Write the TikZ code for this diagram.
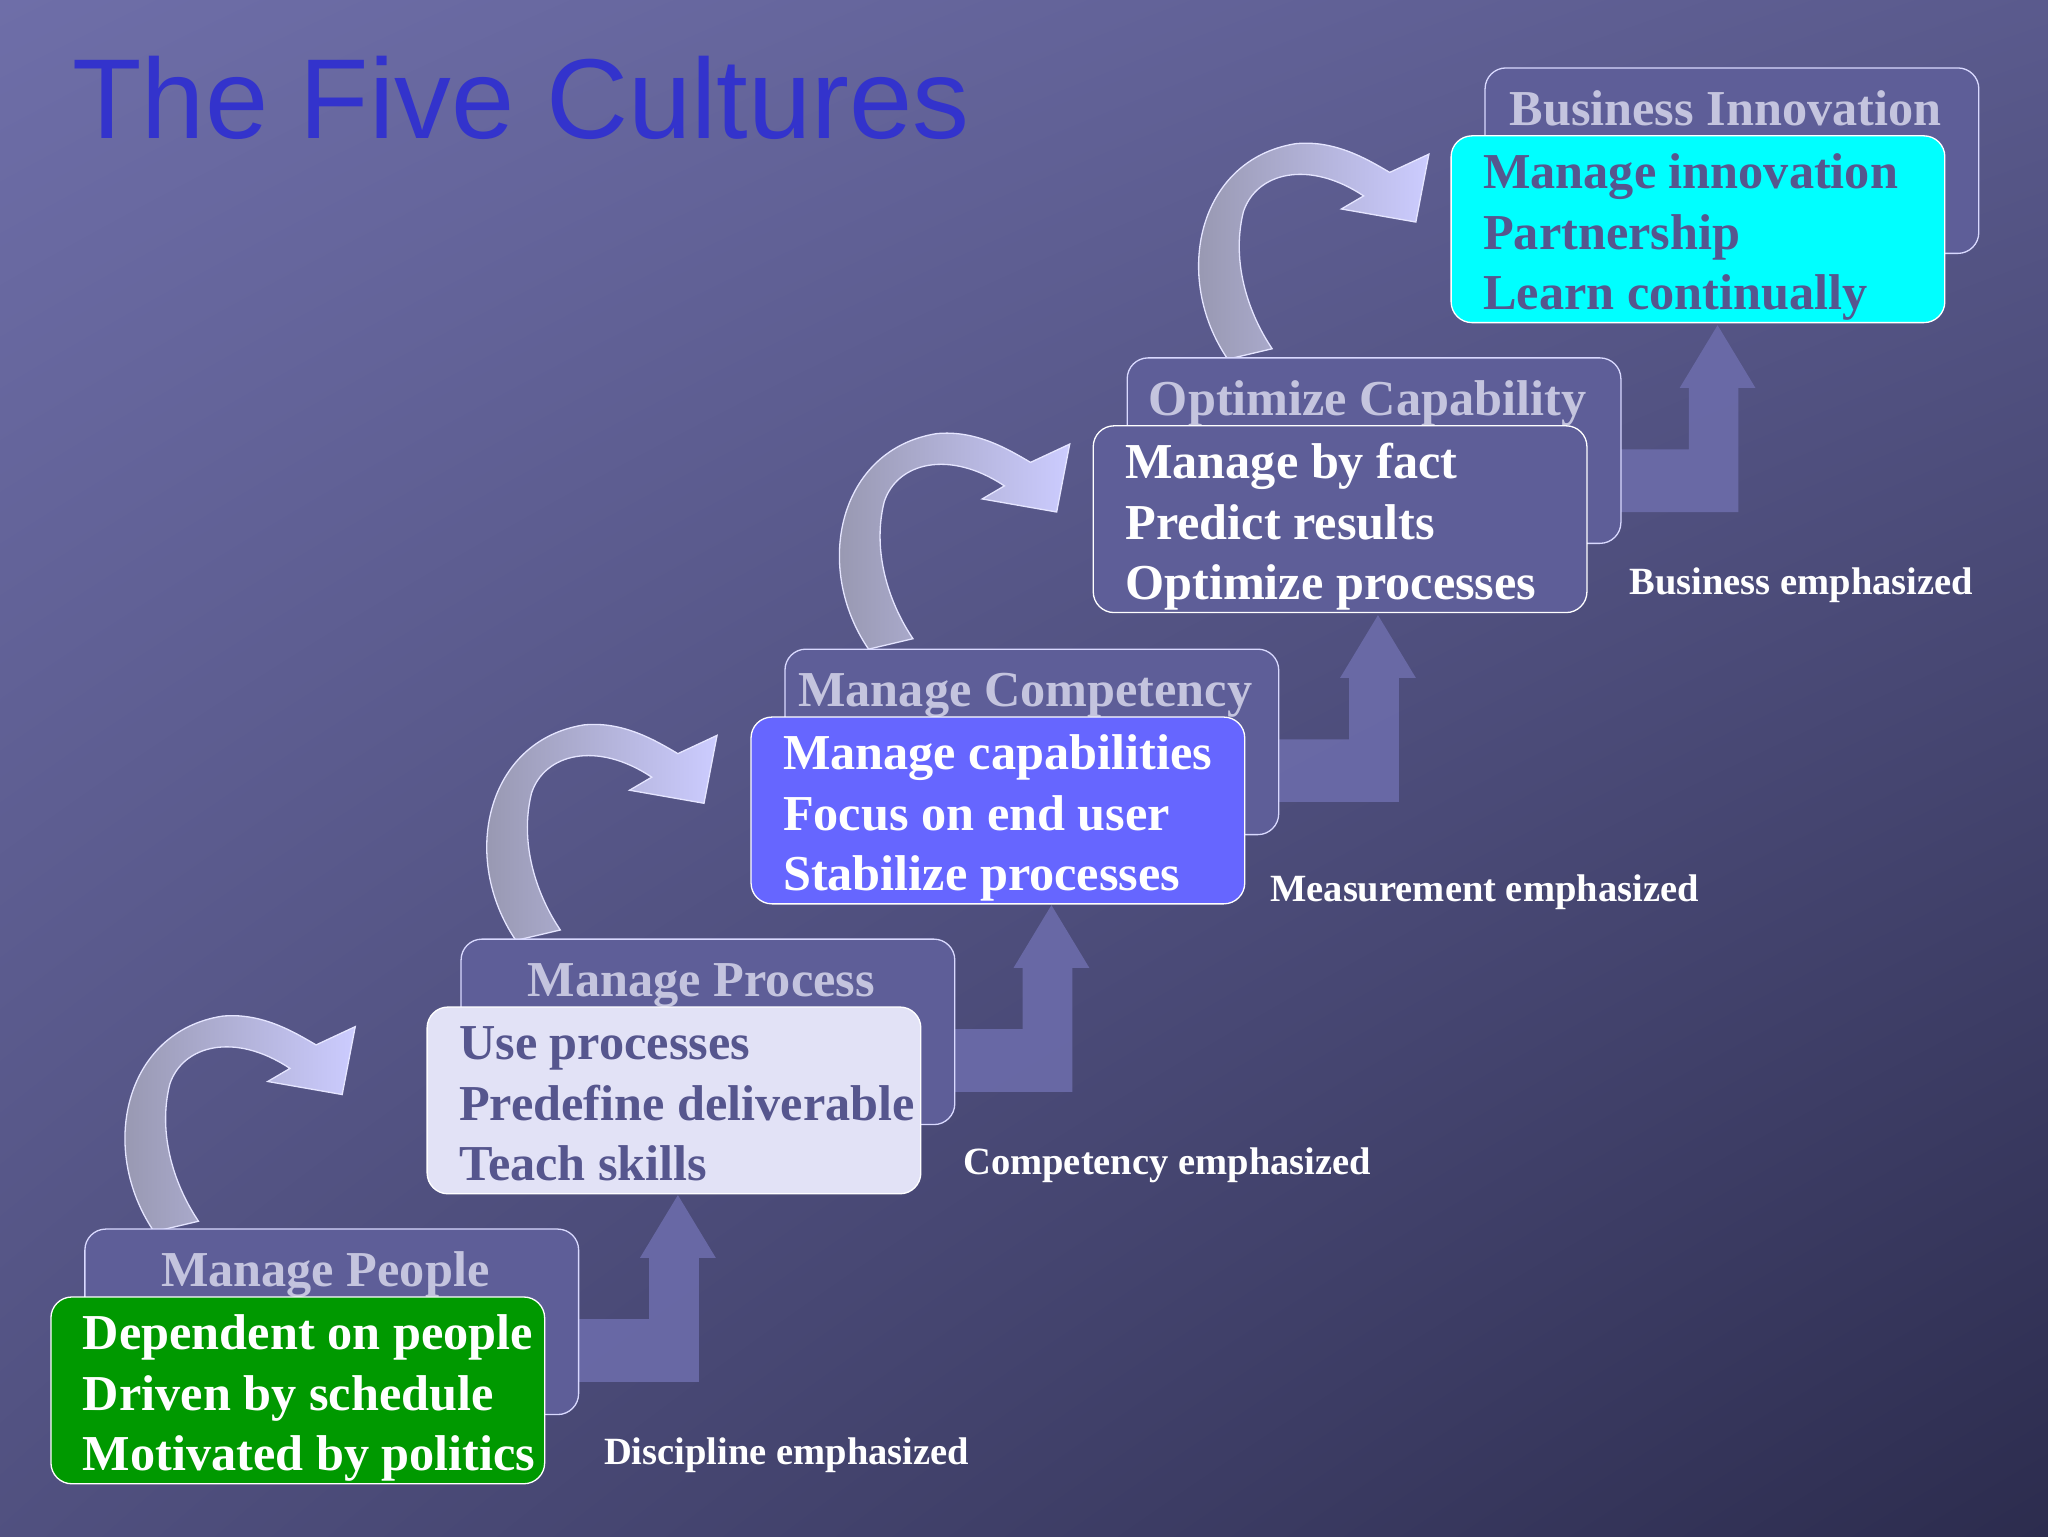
\documentclass[tikz,border=0pt]{standalone}
\usepackage{fontspec}
\setmainfont{Liberation Serif}
\newfontfamily\titlefont{Liberation Sans}
\usetikzlibrary{shadings}
\definecolor{bgA}{HTML}{6E6EA8}
\definecolor{bgB}{HTML}{2C2C4E}
\definecolor{backc}{HTML}{5E5E98}
\definecolor{hdr}{HTML}{C4C4DE}
\definecolor{dark}{HTML}{56568E}
\definecolor{upc}{HTML}{6C6CAA}
\definecolor{cyanc}{HTML}{00FFFF}
\definecolor{greenc}{HTML}{009900}
\definecolor{bluec}{HTML}{6666FF}
\definecolor{lightc}{HTML}{E2E2F6}
\definecolor{titlec}{HTML}{3333CC}
\colorlet{bgM}{bgA!55!bgB}
\colorlet{bgN}{bgA!70!bgB}
\tikzset{
 backbox/.style={draw=white!85!blue, line width=1pt, fill=backc, rounded corners=16pt},
 frontbox/.style={draw=white, line width=1pt, rounded corners=16pt},
 hdrtxt/.style={font=\fontsize{38.5}{40}\selectfont\bfseries, text=hdr, anchor=base},
 linetxt/.style={font=\fontsize{38.5}{40}\selectfont\bfseries, anchor=base west},
 emtxt/.style={font=\fontsize{29.5}{30}\selectfont\bfseries, text=white, anchor=base west},
 uparrow/.style={fill=upc, draw=none, opacity=0.9},
 curvearrow/.style={draw=white!90!blue, line width=1pt, left color=black!5!white!75!blue!35!gray, right color=white!80!blue}
}
\begin{document}
\begin{tikzpicture}[x=1pt,y=-1pt]
\shade[upper left=bgA, upper right=bgN, lower left=bgM, lower right=bgB] (0,0) rectangle (1568,1176);
\useasboundingbox (0,0) rectangle (1568,1176);
\node[anchor=base west, font=\titlefont\fontsize{87}{96}\selectfont, text=titlec] (title) at (52,106) {The Five Cultures};
% up arrows
\foreach \dx/\dy/\bx in {0/0/443, 286/-222/731, 536/-444/979, 796/-666/1241}{
 \fill[uparrow] (\bx,1010+\dy) -- (497+\dx,1010+\dy) -- (497+\dx,963+\dy) -- (490+\dx,963+\dy) -- (519+\dx,915+\dy) -- (548+\dx,963+\dy) -- (535+\dx,963+\dy) -- (535+\dx,1058+\dy) -- (\bx,1058+\dy) -- cycle;
}
% curved arrows
\foreach \dx/\dy in {0/0, 277/-223, 547/-446, 822/-668}{
 \begin{scope}[shift={(\dx,\dy)}]
 \shade[curvearrow] (118,943) .. controls (75,880) and (95,790) .. (170,778) .. controls (200,775) and (225,790) .. (242,800) -- (272,786) -- (262,838) -- (205,828) -- (222,818) .. controls (180,790) and (140,800) .. (130,830) .. controls (120,870) and (135,910) .. (152,935) -- cycle;
 \end{scope}
}
% steps
\def\step#1#2#3#4#5#6#7#8#9{%
 \draw[backbox] (#1,#2) rectangle ++(378,142);
 \node[hdrtxt] at (#1+184,#2+44) {#3};
 \draw[frontbox, fill=#4] (#1-26,#2+52) rectangle ++(378,143);
 \node[linetxt, text=#5] at (#1-5,#2+92) {#6};
 \node[linetxt, text=#5] at (#1-5,#2+139) {#7};
 \node[linetxt, text=#5] at (#1-5,#2+185) {#8};
 \node[emtxt] at #9;
}
\step{65}{941}{Manage People}{greenc}{white}{Dependent on people}{Driven by schedule}{Motivated by politics}{(459,1121) {Discipline emphasized}}
\step{353}{719}{Manage Process}{lightc}{dark}{Use processes}{Predefine deliverable}{Teach skills}{(734,899) {Competency emphasized}}
\step{601}{497}{Manage Competency}{bluec}{white}{Manage capabilities}{Focus on end user}{Stabilize processes}{(969,690) {Measurement emphasized}}
\step{863}{274}{Optimize Capability}{backc}{white}{Manage by fact}{Predict results}{Optimize processes}{(1244,455) {Business emphasized}}
\step{1137}{52}{Business Innovation}{cyanc}{dark}{Manage innovation}{Partnership}{Learn continually}{(1600,0) {}}
\end{tikzpicture}
\end{document}
